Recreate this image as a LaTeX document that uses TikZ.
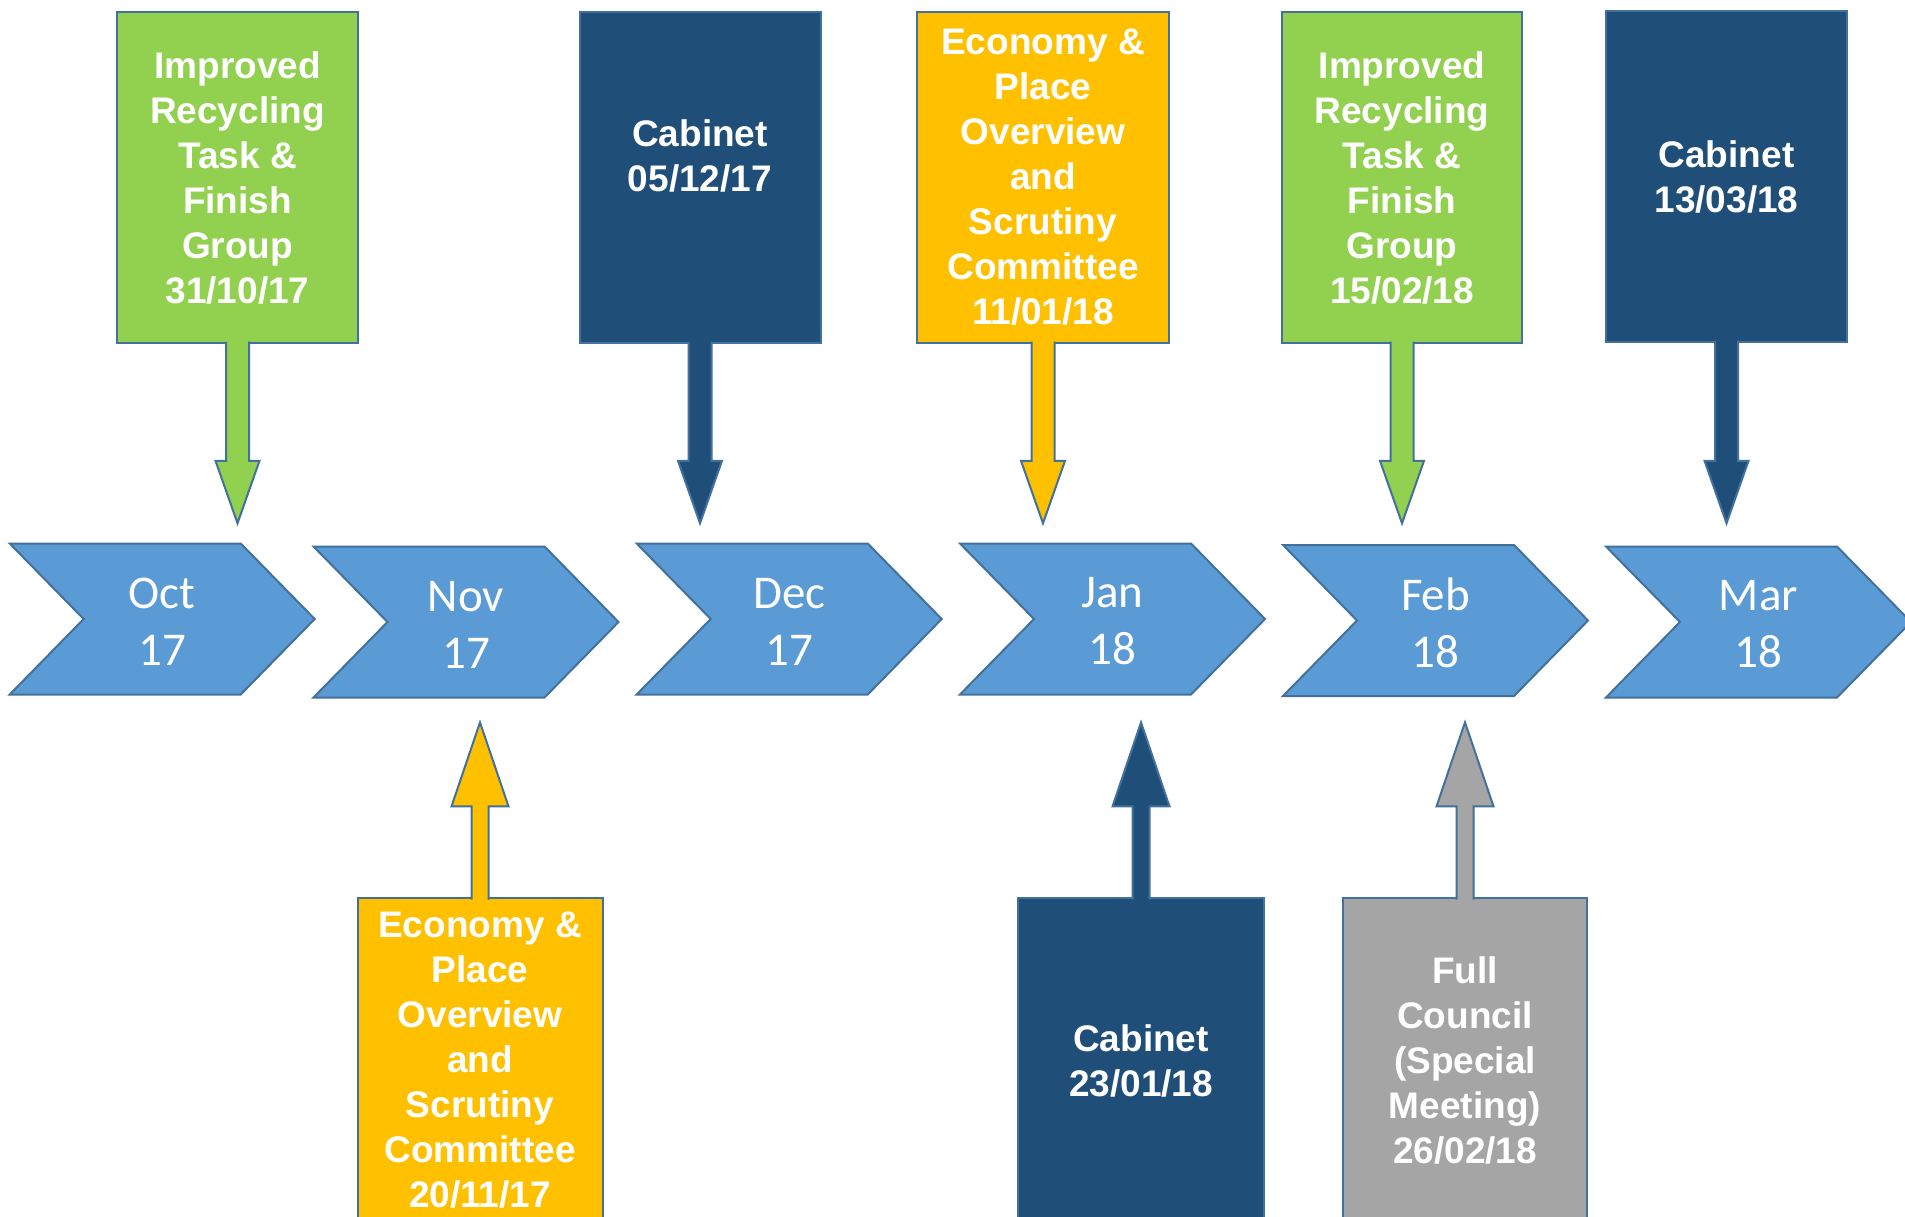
\documentclass[tikz,border=0pt]{standalone}
\usepackage{fontspec}
\newfontfamily\boxfont{Liberation Sans}
\newfontfamily\chevfont{Carlito}
\usetikzlibrary{calc}
\definecolor{bordblue}{HTML}{41719C}
\definecolor{evgreen}{HTML}{92D050}
\definecolor{evnavy}{HTML}{1F4E79}
\definecolor{evorange}{HTML}{FFC000}
\definecolor{evgrey}{HTML}{A5A5A5}
\definecolor{chevblue}{HTML}{5B9BD5}
\tikzset{
  evbox/.style={draw=bordblue, line width=2pt, inner sep=0pt, outer sep=0pt,
    text=white, align=center, font=\boxfont\bfseries\fontsize{37}{45}\selectfont},
  boxtext/.style={inner sep=0pt, text=white, align=center,
    font=\boxfont\bfseries\fontsize{37}{45}\selectfont},
  chevshape/.style={draw=bordblue, line width=2pt, fill=chevblue, line join=miter},
  chevtext/.style={inner sep=0pt, text=white, align=center,
    font=\chevfont\fontsize{47}{57}\selectfont},
  blockarr/.style={draw=bordblue, line width=2pt, line join=miter}
}
% #1 start anchor, #2 tip, #3 shaft width, #4 head width, #5 head length, #6 colour, #7 direction (+1 down, -1 up)
\newcommand\blockarrow[7]{%
  \draw[blockarr, fill=#6] let \p1=(#1), \p2=(#2) in
    (\x1-#3/2, \y1+#7*1.5) -- (\x1-#3/2, \y2+#7*#5) -- (\x1-#4/2, \y2+#7*#5)
    -- (\x2, \y2) -- (\x1+#4/2, \y2+#7*#5) -- (\x1+#3/2, \y2+#7*#5)
    -- (\x1+#3/2, \y1+#7*1.5);
}
% #1 name, #2 left x, #3 top y, #4 text
\newcommand\chevron[4]{%
  \draw[chevshape] (#2,#3) -- ++(231,0) -- ++(74,75.5) -- ++(-74,75.5)
    -- ++(-231,0) -- ++(74,-75.5) -- cycle;
  \node[chevtext] (#1) at (#2+152.5,#3+78) {#4};
}
\begin{document}
\begin{tikzpicture}[x=1pt,y=-1pt]
\useasboundingbox (0,0) rectangle (1905,1217);
\clip (0,0) rectangle (1905,1217);
\fill[white] (0,0) rectangle (1905,1217);

% timeline chevrons
\chevron{oct}{9.7}{543.5}{Oct\\17}
\chevron{nov}{313.5}{546.5}{Nov\\17}
\chevron{dec}{636.7}{543.5}{Dec\\17}
\chevron{jan}{960}{543.5}{Jan\\18}
\chevron{feb}{1283}{545}{Feb\\18}
\chevron{mar}{1606}{546.5}{Mar\\18}

% top boxes
\node[evbox, fill=evgreen, minimum width=241pt, minimum height=331pt] (g1) at (237.5,177.5)
  {Improved\\Recycling\\Task \&\\Finish\\Group\\31/10/17};
\node[evbox, fill=evnavy, minimum width=241pt, minimum height=331pt] (c1) at (700,177.5) {};
\node[boxtext] (c1t) at (700,155.5) {Cabinet\\05/12/17};
\node[evbox, fill=evorange, minimum width=252pt, minimum height=331pt] (o1) at (1043,177.5)
  {Economy \&\\Place\\Overview\\and\\Scrutiny\\Committee\\11/01/18};
\node[evbox, fill=evgreen, minimum width=240pt, minimum height=331pt] (g2) at (1402,177.5)
  {Improved\\Recycling\\Task \&\\Finish\\Group\\15/02/18};
\node[evbox, fill=evnavy, minimum width=241pt, minimum height=331pt] (c2) at (1726.5,176.5)
  {Cabinet\\13/03/18};

% bottom boxes
\node[evbox, fill=evorange, minimum width=245pt, minimum height=325pt] (o2) at (480,1060.5)
  {Economy \&\\Place\\Overview\\and\\Scrutiny\\Committee\\20/11/17};
\node[evbox, fill=evnavy, minimum width=246pt, minimum height=325pt] (c3) at (1141,1060.5)
  {Cabinet\\23/01/18};
\node[evbox, fill=evgrey, minimum width=244pt, minimum height=325pt] (gr) at (1465,1060.5)
  {Full\\Council\\(Special\\Meeting)\\26/02/18};

% arrow tips
\coordinate (t1) at (237.5,523.3);
\coordinate (t2) at (700,523.3);
\coordinate (t3) at (1043,523.3);
\coordinate (t4) at (1402,523.3);
\coordinate (t5) at (1726.5,523.3);
\coordinate (b1) at (480,722.4);
\coordinate (b2) at (1141,722.4);
\coordinate (b3) at (1465,722.4);

% down arrows
\blockarrow{g1.south}{t1}{23}{44}{62.5}{evgreen}{1}
\blockarrow{c1.south}{t2}{23}{44}{62.5}{evnavy}{1}
\blockarrow{o1.south}{t3}{23}{44}{62.5}{evorange}{1}
\blockarrow{g2.south}{t4}{23}{44}{62.5}{evgreen}{1}
\blockarrow{c2.south}{t5}{23}{44}{62.5}{evnavy}{1}
% up arrows
\blockarrow{o2.north}{b1}{17}{57}{84}{evorange}{-1}
\blockarrow{c3.north}{b2}{17}{57}{84}{evnavy}{-1}
\blockarrow{gr.north}{b3}{17}{57}{84}{evgrey}{-1}
\end{tikzpicture}
\end{document}
